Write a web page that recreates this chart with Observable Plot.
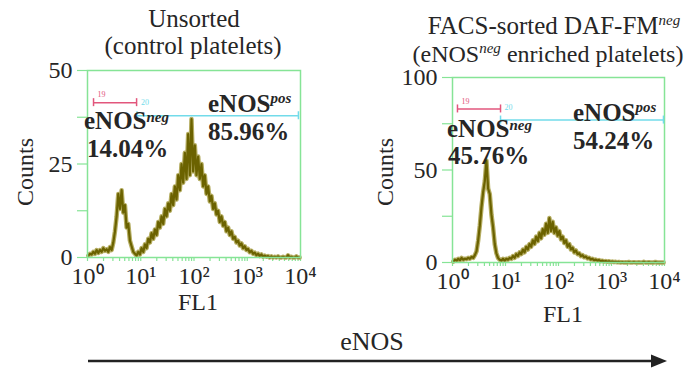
<!DOCTYPE html>
<html><head><meta charset="utf-8">
<script src="https://cdn.jsdelivr.net/npm/d3@7"></script>
<script src="https://cdn.jsdelivr.net/npm/@observablehq/plot@0.6"></script>
<style>
html,body{margin:0;padding:0;background:#fff;}
#root{position:relative;width:698px;height:371px;overflow:hidden;background:#fff;}
#root > div{position:absolute;top:0;}
</style></head><body><div id="root"></div>
<script>
// ---------- data ----------
// FL1 histogram counts, 128 bins over 1024 log channels (4 decades)
const countsUnsorted = [
  0.5,1,0.8,1.5,1,2,1.2,2,1.5,2.5,1.8,2.2,1.5,2.8,2,
  4,7,11,17,13,18,12,14,8,9,4.5,3,1.5,1,0.5,
  1.5,0.8,2.5,1.5,3.5,2.5,5,4,6.5,5,7.5,6,9.5,8,11,9,13,11,14.5,12.5,
  17,14,19,15.5,22,18,25,20,28,21,33,22,37,23,30,22,27,21,25,19,
  22,17,19,15,16.5,13,14.5,11.5,12.5,9.5,11,8.5,9.5,7,8,6,7,5,5.5,4,
  4.5,3.2,3.8,2.5,3,2,2.3,1.4,1.8,1,1.3,0.6,1,0.4,0.8,0.2,0.5,0.2,0.4,0,0.3,0,0.2,
  0,0.3,0,0,0.2,0,0,0.6,0,0.2,0,0,0.3,0,0
];
const countsSorted = [
  0.5,1.5,1,2,1.2,2.5,1.5,2,1.8,2.5,2,3,2.5,
  4,6,12,20,30,38,44,55,40,37,26,19,10,5,2.5,1.5,1,
  2,1,2,1.5,2.5,2,3.5,2.5,4.5,3.5,5.5,4.5,7,5.5,8.5,7,10,8.5,12,10,
  14,11.5,16,13,18,15,21,16,24,17,22,16,19,14.5,17,12.5,14,10.5,12,8.5,
  10,7,8,5.5,6.5,4.5,5,3.5,4,2.8,3.2,2.2,2.6,1.6,2,1.2,1.6,1,1.3,0.7,
  1,0.5,0.8,0.4,0.7,0.3,0.5,0.2,0.4,0.1,0.3,
  0,0.2,0,0.1,0,0.3,0,0,0.2,0,0,0.1,0,0,0.4,0,0,0.2,0,0,0,0.3,0,0,0,0,0
];
const channelsPerBin = 8;
const decadeChannels = [0, 256, 512, 768, 1024];
const xTickLabels = ["10\u2070", "10\u00B9", "10\u00B2", "10\u00B3", "10\u2074"];
const yTicksUnsorted = [0, 12.5, 25, 37.5, 50];
const yLabeledUnsorted = [0, 25, 50];
const yTicksSorted = [0, 25, 50, 75, 100];
const yLabeledSorted = [0, 50, 100];
// gates (channel start, channel end, count level)
const gateIds = ["19", "20"];
const gateStartUnsorted = [29, 238];
const gateEndUnsorted = [236, 1014];
const gateLevelUnsorted = [41.4, 37.9];
const gateStartSorted = [24, 232];
const gateEndSorted = [232, 1019];
const gateLevelSorted = [83, 77];

// ---------- style ----------
const GREEN = "#86e496", OLIVE = "#6b6200", OLIVE_LIGHT = "#b5ad62",
      RED = "#e2567c", CYAN = "#72dbea", INK = "#262626";
const FONT = '"Liberation Serif","Times New Roman",serif';

const minorChannels = decadeChannels.slice(0, 4).flatMap(c =>
  [1,2,3,4,5,6,7,8,9].map(m => c + 256 * Math.log10(m))).concat([1024]);

function panel(o) {
  const data = o.counts.map((c, i) => ({channel: i * channelsPerBin + channelsPerBin / 2, count: c}));
  const gates = gateIds.map((id, k) => ({id, x1: o.gateStart[k], x2: o.gateEnd[k], level: o.gateLevel[k]}));
  const gateMarks = (g, color, dx, dy) => [
    Plot.ruleY([g], {x1: "x1", x2: "x2", y: "level", stroke: color, strokeWidth: 1.5}),
    Plot.ruleX([g], {x: "x1", y1: "level", y2: "level", insetTop: -4, insetBottom: -4, stroke: color, strokeWidth: 1.5}),
    Plot.ruleX([g], {x: "x2", y1: "level", y2: "level", insetTop: -4, insetBottom: -4, stroke: color, strokeWidth: 1.5}),
    Plot.text([g], {x: "x1", y: "level", text: "id", fill: color, fontSize: 8, textAnchor: "start", dx, dy})
  ];
  return Plot.plot({
    width: o.width, height: o.height,
    marginLeft: o.ml, marginRight: o.mr, marginTop: o.mt, marginBottom: o.mb,
    style: {fontFamily: FONT, fontSize: "24px", color: INK, background: "transparent", overflow: "visible"},
    x: {domain: [0, 1024]},
    y: {domain: [0, o.yMax]},
    marks: [
      Plot.axisX({ticks: minorChannels, tickSize: 4, stroke: GREEN, strokeWidth: 1.2, tickFormat: () => "", label: null}),
      Plot.axisX({ticks: decadeChannels, tickSize: 0, tickPadding: 9, fill: INK,
        tickFormat: d => xTickLabels[decadeChannels.indexOf(d)], label: null}),
      Plot.axisY({ticks: o.yTicks, tickSize: 10, tickPadding: 5, stroke: GREEN, strokeWidth: 1.2, fill: INK,
        tickFormat: d => o.yLabeled.includes(d) ? String(d) : "", label: null}),
      Plot.lineY(data, {x: "channel", y: "count", stroke: OLIVE_LIGHT, strokeWidth: 4.5}),
      Plot.lineY(data, {x: "channel", y: "count", stroke: OLIVE, strokeWidth: 2.2}),
      Plot.frame({stroke: GREEN, strokeWidth: 1.5}),
      ...gateMarks(gates[0], RED, 4, -8),
      ...gateMarks(gates[1], CYAN, 4, -13)
    ]
  });
}

const root = document.getElementById("root");
const d1 = document.createElement("div"); d1.style.left = "0px";
d1.appendChild(panel({counts: countsUnsorted, yMax: 50, yTicks: yTicksUnsorted, yLabeled: yLabeledUnsorted,
  gateStart: gateStartUnsorted, gateEnd: gateEndUnsorted, gateLevel: gateLevelUnsorted,
  width: 330, height: 300, ml: 87, mr: 30, mt: 70, mb: 43}));
root.appendChild(d1);
const d2 = document.createElement("div"); d2.style.left = "350px";
d2.appendChild(panel({counts: countsSorted, yMax: 100, yTicks: yTicksSorted, yLabeled: yLabeledSorted,
  gateStart: gateStartSorted, gateEnd: gateEndSorted, gateLevel: gateLevelSorted,
  width: 340, height: 305, ml: 102, mr: 26, mt: 77, mb: 43}));
root.appendChild(d2);

// ---------- annotations ----------
const ov = d3.select("#root").append("svg")
  .attr("width", 698).attr("height", 371)
  .style("position", "absolute").style("left", 0).style("top", 0)
  .style("font-family", FONT).attr("fill", INK);

function rich(x, y, parts, {size = 25, weight = "normal", anchor = "start", rotate = 0, supSize = 15, supItalic = true, rise = 9} = {}) {
  const t = ov.append("text")
    .attr("transform", `translate(${x},${y}) rotate(${rotate})`)
    .attr("text-anchor", anchor).attr("font-size", size).attr("font-weight", weight);
  let raised = false;
  for (const p of parts) {
    const s = t.append("tspan");
    if (typeof p === "string") {
      s.text(p);
      if (raised) { s.attr("dy", rise); raised = false; }
    } else {
      s.text(p.sup).attr("font-size", supSize).attr("dy", -rise);
      if (supItalic) s.attr("font-style", "italic");
      raised = true;
    }
  }
  return t;
}

// titles
rich(194, 27, ["Unsorted"], {anchor: "middle"});
rich(193, 54, ["(control platelets)"], {anchor: "middle"});
rich(554, 34, ["FACS-sorted DAF-FM", {sup: "neg"}], {anchor: "middle"});
rich(548, 62, ["(eNOS", {sup: "neg"}, " enriched platelets)"], {anchor: "middle", size: 24});
// axis titles
rich(33, 172, ["Counts"], {anchor: "middle", rotate: -90, size: 24});
rich(393, 172, ["Counts"], {anchor: "middle", rotate: -90, size: 24});
rich(198, 310, ["FL1"], {anchor: "middle", size: 24});
rich(563, 322, ["FL1"], {anchor: "middle", size: 24});
// population labels
rich(84, 129, ["eNOS", {sup: "neg"}], {weight: "bold", rise: 7});
rich(87, 157, ["14.04%"], {weight: "bold"});
rich(208, 112, ["eNOS", {sup: "pos"}], {weight: "bold"});
rich(208, 140, ["85.96%"], {weight: "bold"});
rich(447, 137, ["eNOS", {sup: "neg"}], {weight: "bold", rise: 7});
rich(448, 164, ["45.76%"], {weight: "bold"});
rich(573, 121, ["eNOS", {sup: "pos"}], {weight: "bold"});
rich(573, 149, ["54.24%"], {weight: "bold"});
// bottom arrow
rich(372, 350, ["eNOS"], {anchor: "middle", size: 26});
ov.append("line").attr("x1", 88).attr("x2", 653).attr("y1", 361).attr("y2", 361)
  .attr("stroke", "#222").attr("stroke-width", 2.5);
ov.append("path").attr("d", "M651,354.5L667,361L651,367.5Z").attr("fill", "#222");
</script></body></html>
